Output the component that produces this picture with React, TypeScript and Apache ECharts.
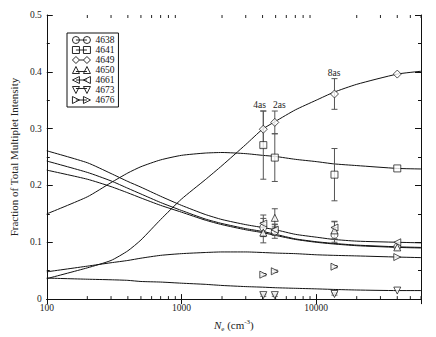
import React, { useEffect, useRef } from 'react';
import * as echarts from 'echarts';

const FONT = '"Liberation Serif", "DejaVu Serif", serif';

// Model densities (cm^-3)
const densities = [100, 200, 300, 400, 500, 700, 1000, 1500, 2000, 3000, 4000, 5000, 7000, 10000, 13500, 20000, 40000, 60000];
const model4638 = [0.243, 0.223, 0.208, 0.195, 0.185, 0.170, 0.156, 0.141, 0.133, 0.124, 0.119, 0.114, 0.106, 0.101, 0.098, 0.095, 0.092, 0.091];
const model4641 = [0.150, 0.180, 0.205, 0.222, 0.233, 0.245, 0.253, 0.257, 0.258, 0.256, 0.253, 0.251, 0.246, 0.242, 0.238, 0.235, 0.230, 0.229];
const model4649 = [0.036, 0.055, 0.068, 0.085, 0.104, 0.140, 0.176, 0.210, 0.235, 0.272, 0.299, 0.313, 0.333, 0.350, 0.364, 0.378, 0.396, 0.401];
const model4650 = [0.227, 0.211, 0.198, 0.187, 0.178, 0.165, 0.153, 0.139, 0.131, 0.122, 0.117, 0.112, 0.105, 0.100, 0.097, 0.094, 0.091, 0.090];
const model4661 = [0.261, 0.240, 0.221, 0.207, 0.197, 0.181, 0.165, 0.149, 0.140, 0.131, 0.126, 0.122, 0.114, 0.109, 0.105, 0.102, 0.100, 0.099];
const model4673 = [0.037, 0.035, 0.034, 0.033, 0.031, 0.030, 0.028, 0.026, 0.024, 0.022, 0.021, 0.020, 0.019, 0.018, 0.017, 0.016, 0.015, 0.015];
const model4676 = [0.048, 0.058, 0.064, 0.068, 0.072, 0.077, 0.080, 0.082, 0.083, 0.083, 0.082, 0.081, 0.080, 0.078, 0.077, 0.076, 0.074, 0.073];
const markerDensity = 40000;

// Observations
const obsDensity = [4050, 4930, 13670];
const obsLabels = ['4as', '2as', '8as'];
const obs4638 = [0.126, 0.119, 0.113];
const err4638 = [0.016, 0.012, 0.013];
const obs4641 = [0.271, 0.249, 0.219];
const err4641 = [0.060, 0.042, 0.046];
const obs4649 = [0.299, 0.311, 0.361];
const err4649 = [0.032, 0.020, 0.027];
const obs4650 = [0.117, 0.143, 0.121];
const err4650 = [0.018, 0.016, 0.015];
const obs4661 = [0.133, 0.122, 0.126];
const err4661 = [0.015, 0.010, 0.011];
const obs4673 = [0.007, 0.007, 0.009];
const err4673 = [0.002, 0.002, 0.002];
const obs4676 = [0.043, 0.049, 0.057];
const err4676 = [0.002, 0.002, 0.002];

const minorTickValues = [200, 300, 400, 500, 600, 700, 800, 900, 2000, 3000, 4000, 5000, 6000, 7000, 8000, 9000, 20000, 30000, 40000, 50000, 60000];

const lineNames = ['4638', '4641', '4649', '4650', '4661', '4673', '4676'];
const labelAlign = ['right', 'left', 'center'];
const labelDx = [3, -2, 0];

const symbols: Record<string, string> = {
  '4638': 'circle',
  '4641': 'rect',
  '4649': 'diamond',
  '4650': 'path://M5,0L10,10L0,10Z',
  '4661': 'path://M10,0L10,10L0,5Z',
  '4673': 'path://M0,0L10,0L5,10Z',
  '4676': 'path://M0,0L10,5L0,10Z',
};
const symbolSizes: Record<string, number> = {
  '4638': 7, '4641': 7, '4649': 8, '4650': 7, '4661': 7, '4673': 7, '4676': 7,
};
const legendIcons: Record<string, string> = {
  '4638': 'path://M0,3.5A3.5,3.5 0 1,0 7,3.5A3.5,3.5 0 1,0 0,3.5ZM11,3.5A3.5,3.5 0 1,0 18,3.5A3.5,3.5 0 1,0 11,3.5ZM3.5,3.5L14.5,3.5',
  '4641': 'path://M0,0L7,0L7,7L0,7ZM11,0L18,0L18,7L11,7ZM3.5,3.5L14.5,3.5',
  '4649': 'path://M0,3.5L3.5,0L7,3.5L3.5,7ZM11,3.5L14.5,0L18,3.5L14.5,7ZM7,3.5L11,3.5',
  '4650': 'path://M0,7L3.5,0L7,7ZM11,7L14.5,0L18,7ZM3.5,5L14.5,5',
  '4661': 'path://M7,0L7,7L0,3.5ZM18,0L18,7L11,3.5ZM3.5,3.5L14.5,3.5',
  '4673': 'path://M0,0L7,0L3.5,7ZM11,0L18,0L14.5,7ZM3.5,2L14.5,2',
  '4676': 'path://M0,0L7,3.5L0,7ZM11,0L18,3.5L11,7ZM3.5,3.5L14.5,3.5',
};

export default function App() {
  const ref = useRef<HTMLDivElement>(null);
  useEffect(() => {
    if (!ref.current) return;
    const chart = echarts.init(ref.current, undefined, { renderer: 'svg' });

    const groups = [
      { name: '4638', model: model4638, obs: obs4638, err: err4638 },
      { name: '4641', model: model4641, obs: obs4641, err: err4641 },
      { name: '4649', model: model4649, obs: obs4649, err: err4649 },
      { name: '4650', model: model4650, obs: obs4650, err: err4650 },
      { name: '4661', model: model4661, obs: obs4661, err: err4661 },
      { name: '4673', model: model4673, obs: obs4673, err: err4673 },
      { name: '4676', model: model4676, obs: obs4676, err: err4676 },
    ];
    const mIdx = densities.indexOf(markerDensity);

    const errData: number[][] = [];
    groups.forEach((g) => {
      obsDensity.forEach((d, i) => errData.push([d, g.obs[i] - g.err[i], g.obs[i] + g.err[i]]));
    });

    const series: any[] = [];
    groups.forEach((g) => {
      series.push({
        type: 'line',
        name: g.name,
        data: densities.map((d, i) => [d, g.model[i]]),
        showSymbol: false,
        symbol: 'none',
        smooth: 0.2,
        lineStyle: { color: '#111', width: 1 },
        itemStyle: { color: '#111' },
        z: 2,
        silent: true,
      });
    });
    series.push({
      type: 'custom',
      name: 'errorbars',
      data: errData,
      z: 3,
      silent: true,
      renderItem: (params: any, api: any) => {
        const top = api.coord([api.value(0), api.value(2)]);
        const bot = api.coord([api.value(0), api.value(1)]);
        const hw = 3;
        const st = { stroke: '#555', lineWidth: 1 };
        return {
          type: 'group',
          children: [
            { type: 'line', shape: { x1: top[0], y1: top[1], x2: bot[0], y2: bot[1] }, style: st },
            { type: 'line', shape: { x1: top[0] - hw, y1: top[1], x2: top[0] + hw, y2: top[1] }, style: st },
            { type: 'line', shape: { x1: bot[0] - hw, y1: bot[1], x2: bot[0] + hw, y2: bot[1] }, style: st },
          ],
        };
      },
    });
    groups.forEach((g) => {
      series.push({
        type: 'scatter',
        name: g.name,
        data: [...obsDensity.map((d, i) => [d, g.obs[i]]), [markerDensity, g.model[mIdx]]],
        symbol: symbols[g.name],
        symbolSize: symbolSizes[g.name],
        itemStyle: { color: '#fff', borderColor: '#111', borderWidth: 0.9 },
        z: 4,
        silent: true,
      });
    });
    series.push({
      type: 'custom',
      name: 'labels',
      data: obsDensity.map((d, i) => [d, obs4649[i] + err4649[i]]),
      z: 5,
      silent: true,
      renderItem: (params: any, api: any) => {
        const p = api.coord([api.value(0), api.value(1)]);
        const i = params.dataIndex;
        return {
          type: 'text',
          x: Math.round(p[0] + labelDx[i]),
          y: Math.round(p[1] - 1),
          style: {
            text: obsLabels[i],
            align: labelAlign[i],
            verticalAlign: 'bottom',
            fontSize: 9.5,
            fontFamily: FONT,
            fill: '#222',
          },
        };
      },
    });
    series.push({
      type: 'custom',
      name: 'minorTicks',
      data: minorTickValues.map((v) => [v, 0.25]),
      z: 1,
      silent: true,
      renderItem: (params: any, api: any) => {
        const p = api.coord([api.value(0), api.value(1)]);
        const cs = params.coordSys;
        const yb = cs.y + cs.height;
        const yt = cs.y;
        const st = { stroke: '#222', lineWidth: 1 };
        return {
          type: 'group',
          children: [
            { type: 'line', shape: { x1: p[0], y1: yb, x2: p[0], y2: yb - 3 }, style: st },
            { type: 'line', shape: { x1: p[0], y1: yt, x2: p[0], y2: yt + 3 }, style: st },
          ],
        };
      },
    });

    const axisLine = { show: true, lineStyle: { color: '#111', width: 1 } };
    const tickStyle = { color: '#111', width: 1 };
    const legendText = { fontFamily: FONT, fontSize: 9.5, color: '#111', lineHeight: 10 };

    chart.setOption({
      animation: false,
      backgroundColor: '#fff',
      textStyle: { fontFamily: FONT },
      grid: { left: 32, right: 15, top: 15, bottom: 34, containLabel: false },
      legend: {
        orient: 'vertical',
        left: 67,
        top: 33,
        padding: [2, 4, 2, 5],
        itemGap: 0,
        itemWidth: 18,
        itemHeight: 7,
        borderColor: '#111',
        borderWidth: 1,
        backgroundColor: '#fff',
        selectedMode: false,
        textStyle: legendText,
        itemStyle: { color: '#fff', borderColor: '#111', borderWidth: 0.9 },
        data: lineNames.map((n) => ({ name: n, icon: legendIcons[n], textStyle: legendText })),
      },
      xAxis: [
        {
          type: 'log',
          logBase: 10,
          min: 100,
          max: 60000,
          position: 'bottom',
          axisLine,
          axisTick: { show: true, inside: true, length: 5, lineStyle: tickStyle },
          axisLabel: {
            show: true,
            margin: 4,
            fontSize: 9.5,
            fontFamily: FONT,
            color: '#222',
            showMaxLabel: false,
            formatter: (v: number) => String(Math.round(v)),
          },
          splitLine: { show: false },
          name: '{i|N}{s|e} (cm{p|-3})',
          nameLocation: 'middle',
          nameGap: 14,
          nameTextStyle: {
            fontFamily: FONT,
            fontSize: 11,
            color: '#222',
            rich: {
              i: { fontStyle: 'italic', fontSize: 11, fontFamily: FONT, color: '#222' },
              s: { fontSize: 7, fontFamily: FONT, color: '#222', padding: [7, 0, 0, 0] },
              p: { fontSize: 7, fontFamily: FONT, color: '#222', padding: [0, 0, 7, 0] },
            },
          },
        },
        {
          type: 'log',
          logBase: 10,
          min: 100,
          max: 60000,
          position: 'top',
          axisLine,
          axisTick: { show: true, inside: true, length: 5, lineStyle: tickStyle },
          axisLabel: { show: false },
          splitLine: { show: false },
        },
      ],
      yAxis: [
        {
          type: 'value',
          min: 0,
          max: 0.5,
          interval: 0.1,
          position: 'left',
          axisLine,
          axisTick: { show: true, inside: true, length: 6, lineStyle: tickStyle },
          minorTick: { show: true, splitNumber: 2, length: 3, lineStyle: tickStyle },
          axisLabel: { margin: 5, fontSize: 9.5, fontFamily: FONT, color: '#222' },
          splitLine: { show: false },
          name: 'Fraction of Total Multiplet Intensity',
          nameLocation: 'middle',
          nameGap: 26,
          nameTextStyle: { fontFamily: FONT, fontSize: 11, color: '#222' },
        },
        {
          type: 'value',
          min: 0,
          max: 0.5,
          interval: 0.1,
          position: 'right',
          axisLine,
          axisTick: { show: true, inside: true, length: 6, lineStyle: tickStyle },
          minorTick: { show: true, splitNumber: 2, length: 3, lineStyle: tickStyle },
          axisLabel: { show: false },
          splitLine: { show: false },
        },
      ],
      series,
    });
    return () => chart.dispose();
  }, []);

  return (
    <div
      ref={ref}
      style={{ position: 'fixed', left: 0, top: 0, width: 436, height: 337, background: '#fff' }}
    />
  );
}
